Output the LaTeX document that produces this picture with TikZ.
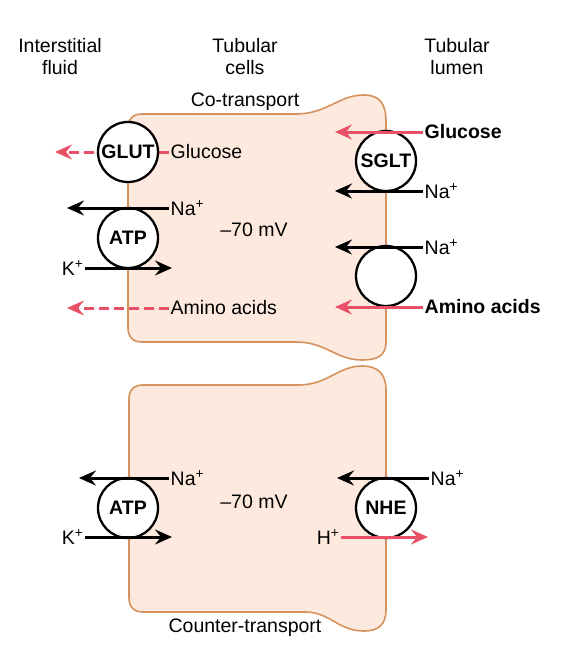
\documentclass[tikz,border=0pt]{standalone}
\usepackage{fontspec}
\setmainfont{Liberation Sans}
\usetikzlibrary{arrows.meta}
\definecolor{cellfill}{RGB}{253,233,221}
\definecolor{celldraw}{RGB}{214,146,92}
\definecolor{flowred}{RGB}{232,80,104}

\begin{document}
\begin{tikzpicture}[x=1pt, y=-1pt,
  every node/.style={font=\fontsize{19.5}{22}\selectfont},
  cell/.style={draw=celldraw, fill=cellfill, line width=1.6pt},
  carrier/.style={draw, circle, fill=white, line width=2.3pt, minimum size=60pt, inner sep=0pt, font=\fontsize{19.5}{22}\selectfont\bfseries},
  lbl/.style={inner sep=1.5pt},
  head/.style={align=center},
  arrow/.style={-{Stealth[length=17pt,width=15pt,inset=6pt]}, line width=3pt},
  redarrow/.style={arrow, draw=flowred, fill=flowred},
  dasharrow/.style={redarrow, dash pattern=on 10pt off 5pt}
]
\useasboundingbox (0,0) rectangle (573,645);

% headings
\node[head] (fluid) at (60,57) {Interstitial\\fluid};
\node[head] (cells) at (245,57) {Tubular\\cells};
\node[head] (lumen) at (457,57) {Tubular\\lumen};

% cells
\draw[cell] (142,114) -- (295,114) .. controls (328,114) and (338,95) .. (364,95) .. controls (380,95) and (386,104) .. (386,122) -- (386,342) .. controls (386,356) and (377,360) .. (362,360) .. controls (336,360) and (326,342) .. (296,342) -- (142,342) .. controls (133,342) and (128,337) .. (128,328) -- (128,128) .. controls (128,119) and (133,114) .. (142,114) -- cycle;
\draw[cell] (143,385) -- (298,385) .. controls (328,385) and (338,366) .. (362,366) .. controls (378,366) and (386,374) .. (386,390) -- (386,610) .. controls (386,625) and (378,631) .. (364,631) .. controls (338,631) and (330,612) .. (305,612) -- (143,612) .. controls (134,612) and (129,607) .. (129,598) -- (129,399) .. controls (129,390) and (134,385) .. (143,385) -- cycle;

\node (cotrans) at (245,102) {Co-transport};
\node (countertrans) at (245,628) {Counter-transport};
\node (mvA) at (254,230) {–70 mV};
\node (mvB) at (254,502) {–70 mV};

% labels, top cell
\node[lbl, anchor=west] (gluA) at (169,152) {Glucose};
\node[lbl, anchor=west] (naA) at (169,208) {Na\textsuperscript{+}};
\node[lbl, anchor=east] (kA) at (85,268) {K\textsuperscript{+}};
\node[lbl, anchor=west] (aaA) at (169,308) {Amino acids};
\node[lbl, anchor=west] (gluB) at (423,132) {\bfseries Glucose};
\node[lbl, anchor=west] (naB) at (423,191) {Na\textsuperscript{+}};
\node[lbl, anchor=west] (naC) at (423,247) {Na\textsuperscript{+}};
\node[lbl, anchor=west] (aaB) at (423,307) {\bfseries Amino acids};
% labels, bottom cell
\node[lbl, anchor=west] (naD) at (169,478) {Na\textsuperscript{+}};
\node[lbl, anchor=east] (kB) at (85,537) {K\textsuperscript{+}};
\node[lbl, anchor=west] (naE) at (429,478) {Na\textsuperscript{+}};
\node[lbl, anchor=east] (hA) at (341,537) {H\textsuperscript{+}};

% arrow ends
\coordinate (gluAend) at (55,152);
\coordinate (naAend) at (67,208);
\coordinate (kAend) at (172,268);
\coordinate (aaAend) at (67,308);
\coordinate (gluBend) at (335,132);
\coordinate (naBend) at (335,191);
\coordinate (naCend) at (335,247);
\coordinate (aaBend) at (335,307);
\coordinate (naDend) at (79,478);
\coordinate (kBend) at (172,537);
\coordinate (naEend) at (337,478);
\coordinate (hAend) at (428,537);

\draw[dasharrow] (gluA.west) -- (gluAend);

% carriers
\node[carrier] (glut) at (128,152) {GLUT};
\node[carrier] (atpA) at (128,238) {ATP};
\node[carrier] (sglt) at (386,161) {SGLT};
\node[carrier] (aacarrier) at (386,276) {};
\node[carrier] (atpB) at (128,508) {ATP};
\node[carrier] (nhe) at (386,508) {NHE};

\draw[arrow] (naA.west) -- (naAend);
\draw[arrow] (kA.east) -- (kAend);
\draw[dasharrow] (aaA.west) -- (aaAend);
\draw[redarrow] (gluB.west) -- (gluBend);
\draw[arrow] (naB.west) -- (naBend);
\draw[arrow] (naC.west) -- (naCend);
\draw[redarrow] (aaB.west) -- (aaBend);
\draw[arrow] (naD.west) -- (naDend);
\draw[arrow] (kB.east) -- (kBend);
\draw[arrow] (naE.west) -- (naEend);
\draw[redarrow] (hA.east) -- (hAend);
\end{tikzpicture}
\end{document}
